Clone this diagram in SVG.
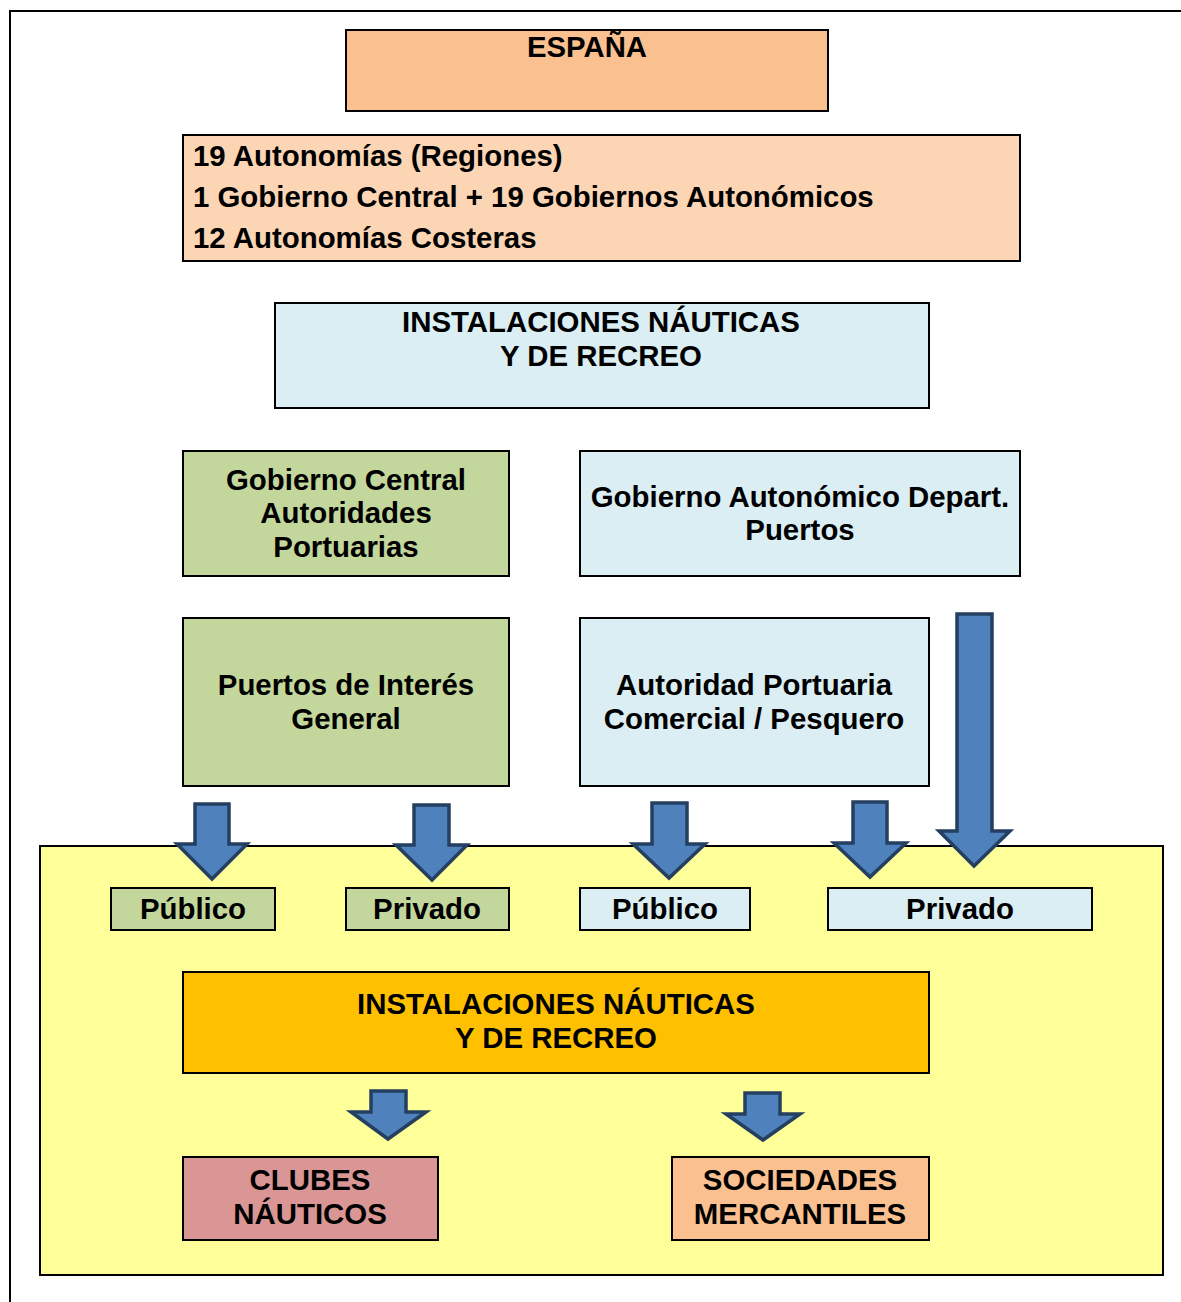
<svg xmlns="http://www.w3.org/2000/svg" width="1181" height="1302" viewBox="0 0 1181 1302">
<style>
.b{stroke:#000;stroke-width:2}
.t{font-family:"Liberation Sans",Arial,sans-serif;font-weight:bold;font-size:29.4px;fill:#000}
.c{text-anchor:middle}
.ar{fill:#4F81BD;stroke:#243F60;stroke-width:3.5;stroke-linejoin:miter}
</style>
<rect x="0" y="0" width="1181" height="1302" fill="#fff"/>
<path d="M10,1302 V11 H1181" fill="none" stroke="#000" stroke-width="2"/>
<g id="espana"><rect class="b" x="346" y="30" width="482" height="81" fill="#FAC090"/><text class="t c" x="587" y="57" font-size="34" textLength="120" lengthAdjust="spacingAndGlyphs">ESPAÑA</text></g>
<g id="autonomias"><rect class="b" x="183" y="135" width="837" height="126" fill="#FCD5B4"/>
<text class="t" x="193" y="166">19 Autonomías (Regiones)</text>
<text class="t" x="193" y="207">1 Gobierno Central + 19 Gobiernos Autonómicos</text>
<text class="t" x="193" y="248">12 Autonomías Costeras</text></g>
<g id="instalaciones1"><rect class="b" x="275" y="303" width="654" height="105" fill="#DAEEF3"/>
<text class="t c" x="601" y="332">INSTALACIONES NÁUTICAS</text><text class="t c" x="601" y="366">Y DE RECREO</text></g>
<g id="gobcentral"><rect class="b" x="183" y="451" width="326" height="125" fill="#C3D69B"/>
<text class="t c" x="346" y="490">Gobierno Central</text><text class="t c" x="346" y="523">Autoridades</text><text class="t c" x="346" y="557">Portuarias</text></g>
<g id="gobauto"><rect class="b" x="580" y="451" width="440" height="125" fill="#DAEEF3"/>
<text class="t c" x="800" y="507">Gobierno Autonómico Depart.</text><text class="t c" x="800" y="540">Puertos</text></g>
<g id="puertos"><rect class="b" x="183" y="618" width="326" height="168" fill="#C3D69B"/>
<text class="t c" x="346" y="695">Puertos de Interés</text><text class="t c" x="346" y="729">General</text></g>
<g id="autoridad"><rect class="b" x="580" y="618" width="349" height="168" fill="#DAEEF3"/>
<text class="t c" x="754" y="695">Autoridad Portuaria</text><text class="t c" x="754" y="729">Comercial / Pesquero</text></g>
<g id="zona"><rect class="b" x="40" y="846" width="1123" height="429" fill="#FFFF99"/></g>
<g id="publico1"><rect class="b" x="111" y="888" width="164" height="42" fill="#C3D69B"/><text class="t c" x="193" y="919">Público</text></g>
<g id="privado1"><rect class="b" x="346" y="888" width="163" height="42" fill="#C3D69B"/><text class="t c" x="427" y="919">Privado</text></g>
<g id="publico2"><rect class="b" x="580" y="888" width="170" height="42" fill="#DAEEF3"/><text class="t c" x="665" y="919">Público</text></g>
<g id="privado2"><rect class="b" x="828" y="888" width="264" height="42" fill="#DAEEF3"/><text class="t c" x="960" y="919">Privado</text></g>
<g id="instalaciones2"><rect class="b" x="183" y="972" width="746" height="101" fill="#FFC000"/>
<text class="t c" x="556" y="1014">INSTALACIONES NÁUTICAS</text><text class="t c" x="556" y="1048">Y DE RECREO</text></g>
<g id="clubes"><rect class="b" x="183" y="1157" width="255" height="83" fill="#D99694"/>
<text class="t c" x="310" y="1190">CLUBES</text><text class="t c" x="310" y="1224">NÁUTICOS</text></g>
<g id="sociedades"><rect class="b" x="672" y="1157" width="257" height="83" fill="#FAC090"/>
<text class="t c" x="800" y="1190">SOCIEDADES</text><text class="t c" x="800" y="1224">MERCANTILES</text></g>
<g id="connectors">
<path class="ar" d="M195,804 H229 V844 H247 L212,879 L177,844 H195 Z"/>
<path class="ar" d="M414,805 H449 V845 H467 L432,880 L396,845 H414 Z"/>
<path class="ar" d="M652,803 H687 V844 H705 L669,878 L633,844 H652 Z"/>
<path class="ar" d="M853,802 H887 V843 H906 L870,877 L834,843 H853 Z"/>
<path class="ar" d="M957,614 H992 V831 H1010 L974,866 L939,831 H957 Z"/>
<path class="ar" d="M371,1091 H406 V1112 H426 L388,1139 L351,1112 H371 Z"/>
<path class="ar" d="M745,1093 H780 V1114 H800 L763,1140 L726,1114 H745 Z"/>
</g>
</svg>
